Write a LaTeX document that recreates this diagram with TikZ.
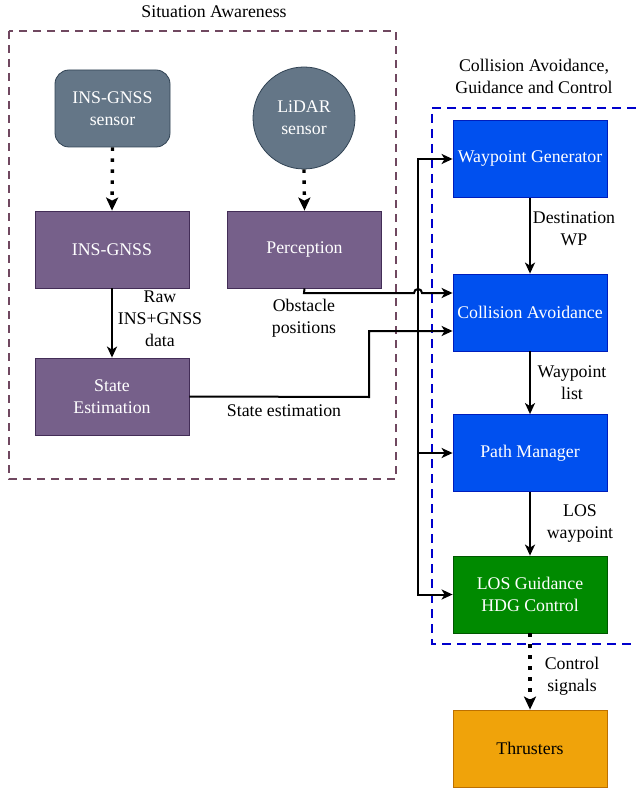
\documentclass[tikz,border=0pt]{standalone}
\usepackage{fontspec}
\setmainfont{Liberation Serif}
\usetikzlibrary{arrows.meta,calc}
\definecolor{slatefill}{HTML}{647687}
\definecolor{slatedraw}{HTML}{314354}
\definecolor{purfill}{HTML}{76608A}
\definecolor{purdraw}{HTML}{432D57}
\definecolor{bluefill}{HTML}{0050EF}
\definecolor{bluedraw}{HTML}{001DBC}
\definecolor{grnfill}{HTML}{008A00}
\definecolor{grndraw}{HTML}{005700}
\definecolor{orgfill}{HTML}{F0A30A}
\definecolor{orgdraw}{HTML}{BD7000}
\definecolor{sabox}{RGB}{112,72,96}
\definecolor{cgbox}{HTML}{0000CC}
\tikzset{
  txt/.style={font=\fontsize{17.8}{22}\selectfont, align=center, inner sep=0pt},
  blk/.style={txt, minimum width=154pt, minimum height=77pt, line width=0.8pt, text=white},
  slate/.style={blk, fill=slatefill, draw=slatedraw},
  pur/.style={blk, fill=purfill, draw=purdraw},
  blu/.style={blk, fill=bluefill, draw=bluedraw},
  grn/.style={blk, fill=grnfill, draw=grndraw},
  org/.style={blk, fill=orgfill, draw=orgdraw, text=black},
  arr/.style={line width=2pt, -{Stealth[length=11pt,width=10pt,inset=3pt]}},
  dotarr/.style={line width=3.4pt, dash pattern=on 3.4pt off 7.6pt, -{Stealth[length=13pt,width=12pt,inset=3pt]}},
}
\begin{document}
\begin{tikzpicture}[x=1pt,y=-1pt]
\useasboundingbox (0,0) rectangle (635,791);
% group frames
\draw[sabox, line width=2pt, dash pattern=on 8pt off 6pt] (9,31) rectangle (396,479);
\draw[cgbox, line width=2pt, dash pattern=on 9pt off 6pt] (636,108) -- (432,108) -- (432,644) -- (636,644);
\node[txt] (tsa) at (214,12) {Situation Awareness};
\node[txt] (tcg) at (534,76) {Collision Avoidance,\\Guidance and Control};
% situation awareness nodes
\node[slate, rounded corners=14pt, minimum width=115pt] (ins) at (112.5,108.5) {INS-GNSS\\sensor};
\node[slate, circle, minimum size=102pt] (lid) at (304,118) {LiDAR\\sensor};
\node[pur] (insg) at (112,249.5) {INS-GNSS};
\node[pur] (perc) at (304.5,249.5) {Perception};
\node[pur] (se) at (112,396.5) {State\\Estimation};
% CAGC nodes
\node[blu] (wg) at (530,159) {Waypoint Generator};
\node[blu] (ca) at (530,312.5) {Collision Avoidance};
\node[blu] (pm) at (530,453) {Path Manager};
\node[grn] (los) at (530,594.5) {LOS Guidance\\HDG Control};
\node[org] (thr) at (530,748.5) {Thrusters};
% connectors
\draw[dotarr] (ins.south) -- (insg.north);
\draw[dotarr] (lid.south) -- (perc.north);
\draw[arr] (insg.south) -- (se.north);
\node[txt] (lraw) at (160,319) {Raw\\INS+GNSS\\data};
\coordinate (pb) at (304,293);
\coordinate (jp) at (414,293);
\draw[arr] (perc.south) -- (pb) -- (jp) arc[start angle=180,end angle=0,radius=4pt] -- ([yshift=19.5pt]ca.west);
\node[txt] (lobs) at (304,318) {Obstacle\\positions};
\coordinate (s1) at (369,397);
\coordinate (s2) at (369,331);
\coordinate (bus) at (418,331);
\draw[arr] (se.east) -- (s1) -- (s2) -- ([yshift=-18.5pt]ca.west);
\node[txt] (lse) at (284,411) {State estimation};
\draw[arr] (bus) |- (wg.west);
\draw[arr] (bus) |- (los.west);
\draw[arr] (bus |- pm.west) -- (pm.west);
\draw[arr] (wg.south) -- (ca.north);
\node[txt] (ldw) at (574,229) {Destination\\WP};
\draw[arr] (ca.south) -- (pm.north);
\node[txt] (lwl) at (572,383) {Waypoint\\list};
\draw[arr] (pm.south) -- (los.north);
\node[txt] (llw) at (580,524) {LOS\\waypoint};
\draw[dotarr] (los.south) -- (thr.north);
\node[txt] (lcs) at (572,676) {Control\\signals};
\end{tikzpicture}
\end{document}
